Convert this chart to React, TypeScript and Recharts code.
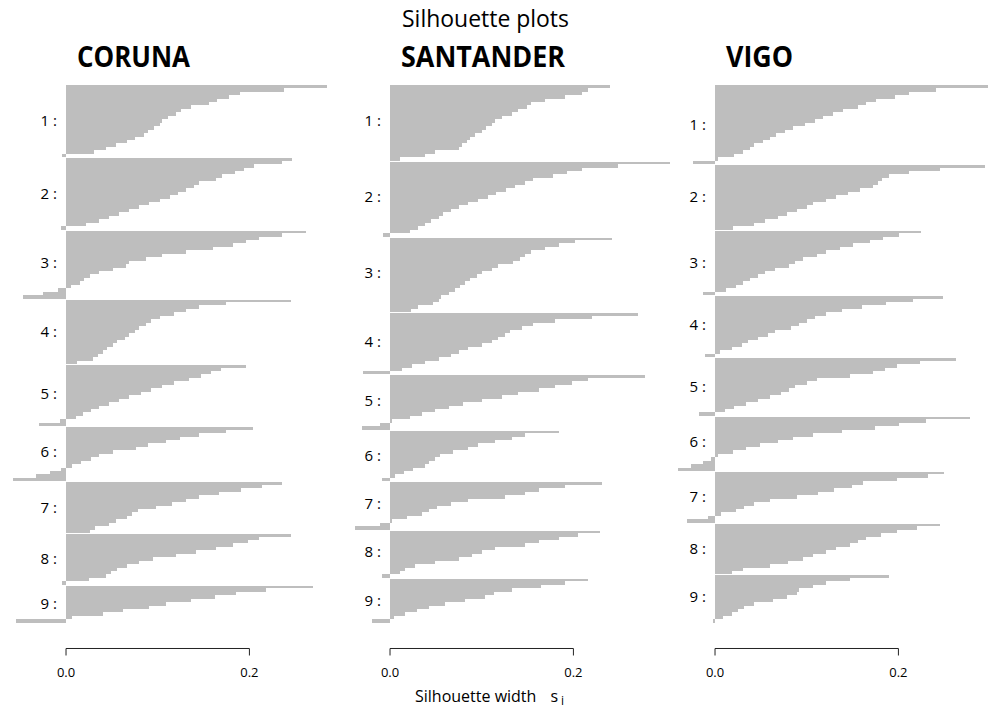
import { BarChart, Bar, XAxis, YAxis, LabelList } from "recharts";

const TITLE = "Silhouette plots";
const X_LABEL = "Silhouette width";
const PANEL_NAMES = ["CORUNA", "SANTANDER", "VIGO"];
const CLUSTER_LABELS = ["1 :", "2 :", "3 :", "4 :", "5 :", "6 :", "7 :", "8 :", "9 :"];
const X_TICKS = [0, 0.2];

// silhouette widths per cluster, sorted, top bar first
const coruna: number[][] = [
  [0.285, 0.238, 0.19, 0.178, 0.165, 0.156, 0.136, 0.125, 0.12, 0.111, 0.105, 0.102, 0.096, 0.089, 0.085, 0.075, 0.067, 0.055, 0.044, 0.031, -0.004],
  [0.246, 0.236, 0.205, 0.194, 0.184, 0.17, 0.164, 0.145, 0.14, 0.131, 0.122, 0.113, 0.102, 0.091, 0.08, 0.069, 0.058, 0.047, 0.036, 0.022, -0.006],
  [0.262, 0.236, 0.211, 0.196, 0.182, 0.16, 0.131, 0.105, 0.087, 0.069, 0.065, 0.051, 0.036, 0.026, 0.02, 0.015, 0.005, -0.009, -0.025, -0.047],
  [0.245, 0.175, 0.145, 0.131, 0.118, 0.102, 0.093, 0.087, 0.08, 0.075, 0.069, 0.064, 0.056, 0.051, 0.045, 0.04, 0.035, 0.029, 0.012],
  [0.196, 0.169, 0.158, 0.147, 0.134, 0.118, 0.105, 0.093, 0.082, 0.069, 0.058, 0.047, 0.036, 0.027, 0.018, 0.011, -0.007, -0.029],
  [0.204, 0.174, 0.145, 0.124, 0.109, 0.089, 0.076, 0.051, 0.036, 0.027, 0.016, 0.007, -0.005, -0.018, -0.033, -0.058],
  [0.236, 0.214, 0.191, 0.167, 0.145, 0.131, 0.116, 0.098, 0.078, 0.072, 0.067, 0.055, 0.047, 0.032, 0.026],
  [0.245, 0.211, 0.198, 0.182, 0.164, 0.142, 0.12, 0.095, 0.08, 0.067, 0.056, 0.049, 0.044, 0.025, -0.004],
  [0.269, 0.218, 0.185, 0.162, 0.136, 0.109, 0.091, 0.062, 0.04, 0.007, -0.055],
];

const santander: number[][] = [
  [0.24, 0.216, 0.209, 0.191, 0.169, 0.154, 0.149, 0.14, 0.133, 0.122, 0.115, 0.111, 0.105, 0.1, 0.093, 0.087, 0.084, 0.078, 0.075, 0.049, 0.038, 0.011],
  [0.305, 0.249, 0.209, 0.193, 0.178, 0.156, 0.147, 0.136, 0.127, 0.116, 0.107, 0.096, 0.085, 0.075, 0.067, 0.058, 0.053, 0.045, 0.038, 0.03, 0.022, -0.008],
  [0.242, 0.202, 0.184, 0.169, 0.154, 0.147, 0.142, 0.134, 0.118, 0.111, 0.1, 0.095, 0.087, 0.082, 0.076, 0.071, 0.064, 0.056, 0.053, 0.047, 0.031, 0.023],
  [0.27, 0.22, 0.18, 0.156, 0.144, 0.131, 0.125, 0.118, 0.111, 0.1, 0.085, 0.075, 0.067, 0.053, 0.038, 0.024, 0.013, -0.03],
  [0.278, 0.216, 0.198, 0.18, 0.162, 0.14, 0.122, 0.1, 0.08, 0.064, 0.049, 0.035, 0.022, 0.002, -0.011, -0.031],
  [0.184, 0.147, 0.133, 0.115, 0.096, 0.085, 0.069, 0.055, 0.049, 0.043, 0.038, 0.025, 0.015, 0.005, -0.009],
  [0.231, 0.191, 0.162, 0.147, 0.125, 0.085, 0.067, 0.051, 0.042, 0.035, 0.018, 0.002, -0.011, -0.038],
  [0.229, 0.205, 0.184, 0.162, 0.147, 0.115, 0.1, 0.089, 0.075, 0.049, 0.027, 0.016, 0.011, -0.009],
  [0.216, 0.191, 0.165, 0.133, 0.113, 0.104, 0.082, 0.06, 0.042, 0.029, 0.016, 0.004, -0.02],
];

const vigo: number[][] = [
  [0.298, 0.241, 0.212, 0.196, 0.176, 0.165, 0.156, 0.14, 0.129, 0.118, 0.109, 0.098, 0.085, 0.076, 0.067, 0.06, 0.052, 0.043, 0.038, 0.031, 0.021, 0.003, -0.024],
  [0.294, 0.245, 0.212, 0.19, 0.182, 0.178, 0.172, 0.158, 0.145, 0.132, 0.121, 0.107, 0.1, 0.089, 0.078, 0.069, 0.054, 0.043, 0.02],
  [0.225, 0.201, 0.183, 0.169, 0.15, 0.136, 0.121, 0.111, 0.096, 0.087, 0.081, 0.065, 0.054, 0.047, 0.038, 0.031, 0.023, 0.012, -0.013],
  [0.249, 0.216, 0.187, 0.16, 0.138, 0.121, 0.109, 0.1, 0.092, 0.083, 0.065, 0.058, 0.047, 0.036, 0.029, 0.018, 0.005, -0.011],
  [0.263, 0.223, 0.198, 0.185, 0.172, 0.147, 0.111, 0.1, 0.087, 0.081, 0.072, 0.06, 0.047, 0.034, 0.021, 0.011, -0.017],
  [0.278, 0.23, 0.201, 0.174, 0.138, 0.107, 0.085, 0.069, 0.049, 0.034, 0.02, 0.003, -0.004, -0.013, -0.026, -0.04],
  [0.25, 0.232, 0.198, 0.161, 0.149, 0.13, 0.112, 0.089, 0.06, 0.043, 0.032, 0.023, 0.007, -0.008, -0.031],
  [0.245, 0.22, 0.198, 0.181, 0.165, 0.156, 0.147, 0.132, 0.121, 0.107, 0.096, 0.08, 0.06, 0.031, 0.018],
  [0.19, 0.147, 0.121, 0.107, 0.092, 0.089, 0.078, 0.063, 0.043, 0.032, 0.025, 0.018, 0.009, -0.002],
];

const PX = 917; // pixels per unit of silhouette width
const PLOT_TOP = 85;
const PLOT_H = 538;
const AXIS_GAP = 25;
const AXIS_H = 60;
const BAR_FILL = "#bebebe";
const FONT = "'Open Sans', 'Liberation Sans', sans-serif";

const panels = [
  { name: PANEL_NAMES[0], clusters: coruna, zero: 66.5, dmin: -0.072, dmax: 0.3, nameX: 77, nameW: 113 },
  { name: PANEL_NAMES[1], clusters: santander, zero: 390.5, dmin: -0.072, dmax: 0.31, nameX: 401, nameW: 164 },
  { name: PANEL_NAMES[2], clusters: vigo, zero: 715.5, dmin: -0.072, dmax: 0.31, nameX: 726, nameW: 67 },
];

type Row = { id: string; s: number; lab: string | null; first: boolean };

const buildRows = (clusters: number[][]): Row[] => {
  const rows: Row[] = [];
  clusters.forEach((vals, c) => {
    const mid = Math.floor((vals.length - 1) / 2);
    vals.forEach((s, i) => {
      rows.push({
        id: `${c}-${i}`,
        s,
        lab: i === mid ? CLUSTER_LABELS[c] : null,
        first: i === 0 && c > 0,
      });
    });
  });
  return rows;
};

// bars fill the whole band; first bar of a cluster leaves a 1px gap above it
const SilBar = (props: any) => {
  const { x, y, width, height, payload, band } = props;
  const w = Math.abs(width);
  if (!w) return null;
  const left = Math.min(x, x + width);
  const center = y + height / 2;
  let top = center - band / 2;
  let h = band;
  if (payload?.first) {
    top += 1;
    h -= 1;
  }
  return <rect x={left} y={top} width={w} height={h} fill={BAR_FILL} shapeRendering="crispEdges" />;
};

const AxisTick = (props: any) => {
  const { x, y, payload, index } = props;
  const ay = y + AXIS_GAP + 0.5;
  const span = (X_TICKS[X_TICKS.length - 1] - X_TICKS[0]) * PX;
  return (
    <g>
      {index === 0 && <line x1={x} x2={x + span} y1={ay} y2={ay} stroke="#222" />}
      <line x1={x} x2={x} y1={ay} y2={ay + 7} stroke="#222" />
      <text x={x} y={ay + 29} textAnchor="middle" fontSize={13} fontFamily={FONT} fill="#000">
        {Number(payload.value).toFixed(1)}
      </text>
    </g>
  );
};

const Panel = ({ clusters, zero, dmin, dmax }: { clusters: number[][]; zero: number; dmin: number; dmax: number }) => {
  const rows = buildRows(clusters);
  const band = PLOT_H / rows.length;
  return (
    <div style={{ position: "absolute", left: zero + dmin * PX, top: PLOT_TOP }}>
      <BarChart
        width={(dmax - dmin) * PX}
        height={PLOT_H + AXIS_H}
        data={rows}
        layout="vertical"
        margin={{ top: 0, right: 0, bottom: 0, left: 0 }}
        barCategoryGap={0}
        barGap={0}
      >
        <XAxis
          type="number"
          domain={[dmin, dmax]}
          allowDataOverflow
          ticks={X_TICKS}
          interval={0}
          axisLine={false}
          tickLine={false}
          tickSize={0}
          tickMargin={0}
          height={AXIS_H}
          tick={<AxisTick />}
        />
        <YAxis type="category" dataKey="id" hide />
        <Bar dataKey="s" isAnimationActive={false} shape={<SilBar band={band} />}>
          <LabelList dataKey="lab" position="left" offset={9} fill="#000" fontSize={15} fontFamily={FONT} />
        </Bar>
      </BarChart>
    </div>
  );
};

export default function App() {
  return (
    <div
      style={{
        position: "absolute",
        left: 0,
        top: 0,
        width: 991,
        height: 709,
        overflow: "hidden",
        background: "#fff",
      }}
    >
      <svg width={991} height={709} style={{ position: "absolute", left: 0, top: 0 }}>
        <text x={402} y={27} fontSize={23} fontFamily={FONT} textLength={167} lengthAdjust="spacingAndGlyphs">
          {TITLE}
        </text>
        {panels.map((p) => (
          <text
            key={p.name}
            x={p.nameX}
            y={67}
            fontSize={28}
            fontWeight="bold"
            fontFamily={FONT}
            textLength={p.nameW}
            lengthAdjust="spacingAndGlyphs"
          >
            {p.name}
          </text>
        ))}
        <text x={415} y={702} fontSize={16} fontFamily={FONT}>
          {X_LABEL}
          <tspan dx={14}>s</tspan>
          <tspan dx={3} dy={3} fontSize={12}>i</tspan>
        </text>
      </svg>
      {panels.map((p) => (
        <Panel key={p.name} clusters={p.clusters} zero={p.zero} dmin={p.dmin} dmax={p.dmax} />
      ))}
    </div>
  );
}
